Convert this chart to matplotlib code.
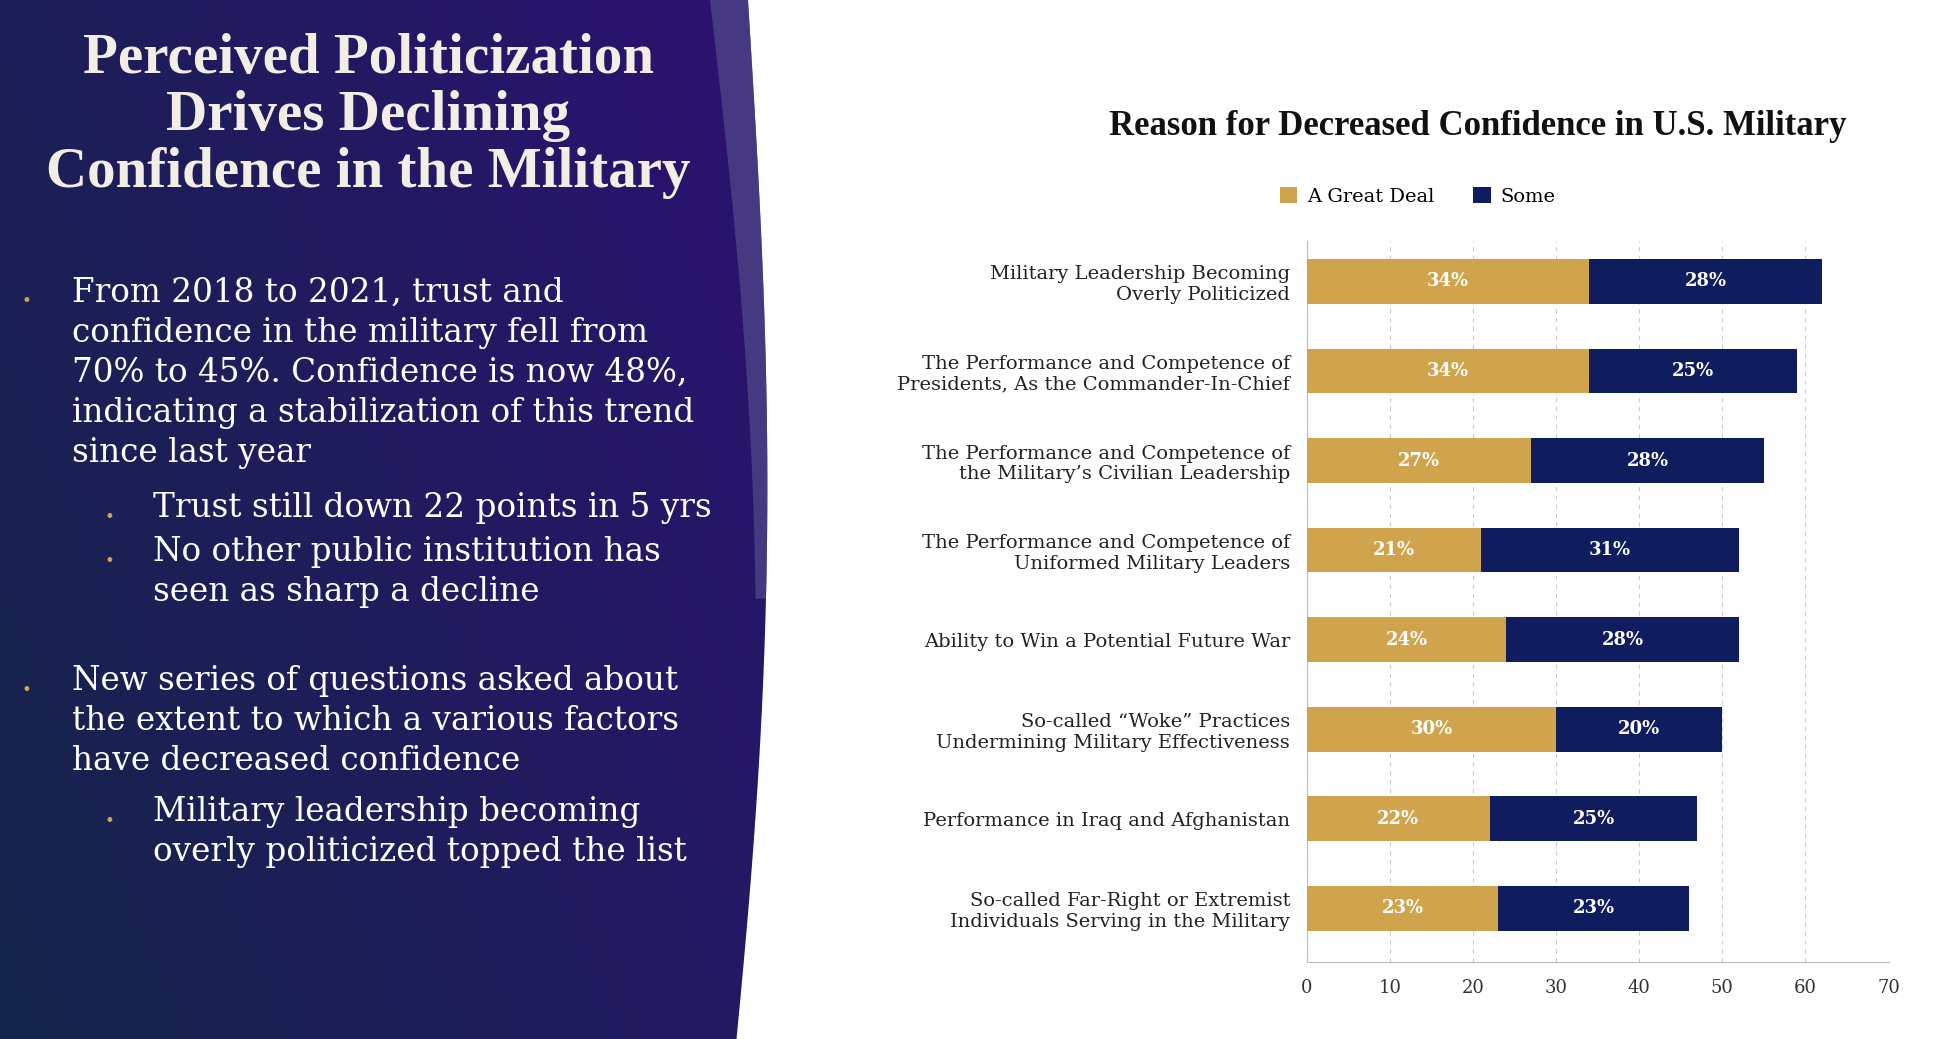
import numpy as np
import matplotlib.pyplot as plt
from matplotlib.patches import Polygon

categories = [
    "Military Leadership Becoming\nOverly Politicized",
    "The Performance and Competence of\nPresidents, As the Commander-In-Chief",
    "The Performance and Competence of\nthe Military\u2019s Civilian Leadership",
    "The Performance and Competence of\nUniformed Military Leaders",
    "Ability to Win a Potential Future War",
    "So-called \u201cWoke\u201d Practices\nUndermining Military Effectiveness",
    "Performance in Iraq and Afghanistan",
    "So-called Far-Right or Extremist\nIndividuals Serving in the Military",
]
great_deal = [34, 34, 27, 21, 24, 30, 22, 23]
some = [28, 25, 28, 31, 28, 20, 25, 23]

GOLD = "#d0a44c"
NAVY = "#0f1c5e"
W, H = 1939, 1039

fig = plt.figure(figsize=(19.39, 10.39), dpi=100)
fig.patch.set_facecolor("white")

# left dark panel with gradient
bg = fig.add_axes([0, 0, 1, 1], zorder=0)
bg.set_xlim(0, W)
bg.set_ylim(H, 0)
bg.axis("off")
xx, yy = np.meshgrid(np.linspace(0, 1, 200), np.linspace(0, 1, 200))
t = np.clip(0.65 * xx + 0.35 * (1 - yy), 0, 1)
c0 = np.array([0x15, 0x25, 0x4a]) / 255
c1 = np.array([0x2c, 0x12, 0x72]) / 255
img = c0[None, None, :] * (1 - t[..., None]) + c1[None, None, :] * t[..., None]
im = bg.imshow(img, extent=[0, 790, H, 0], aspect="auto", zorder=0)
ys = np.linspace(0, H, 60)
edge = 748 + 30 * np.sin(np.pi * ys / H * 0.9) - 0.02 * ys
clip = Polygon(np.column_stack([np.r_[0, edge, 0], np.r_[0, ys, H]]), closed=True,
               transform=bg.transData, facecolor="none", edgecolor="none")
bg.add_patch(clip)
im.set_clip_path(clip)
band_x = edge - 38 * (1 - ys / H) ** 1.5
band = np.column_stack([np.r_[band_x[:35], edge[34::-1]], np.r_[ys[:35], ys[34::-1]]])
bg.add_patch(Polygon(band, closed=True, facecolor="#5a5390", alpha=0.6, edgecolor="none"))

# left text
fig.text(0.19, 0.968, "Perceived Politicization\nDrives Declining\nConfidence in the Military",
         ha="center", va="top", color="#f2eee6", fontsize=41, fontweight="bold",
         family="Liberation Serif", linespacing=1.12)
body = [
    (0.011, 0.037, 0.71, "From 2018 to 2021, trust and\nconfidence in the military fell from\n70% to 45%. Confidence is now 48%,\nindicating a stabilization of this trend\nsince last year"),
    (0.054, 0.079, 0.502, "Trust still down 22 points in 5 yrs"),
    (0.054, 0.079, 0.46, "No other public institution has\nseen as sharp a decline"),
    (0.011, 0.037, 0.336, "New series of questions asked about\nthe extent to which a various factors\nhave decreased confidence"),
    (0.054, 0.079, 0.21, "Military leadership becoming\noverly politicized topped the list"),
]
for bx, tx, ty, s in body:
    fig.text(bx, ty, "\u2022", color=GOLD, fontsize=12, va="center")
    fig.text(tx, ty + 0.024, s, color="white", fontsize=23.5, va="top",
             family="DejaVu Serif", linespacing=1.33)

# chart
ax = fig.add_axes([0.674, 0.074, 0.3, 0.694], zorder=2)
y = np.arange(len(categories))
ax.barh(y, great_deal, height=0.5, color=GOLD, label="A Great Deal", zorder=3)
ax.barh(y, some, left=great_deal, height=0.5, color=NAVY, label="Some", zorder=3)
for i in range(len(categories)):
    ax.text(great_deal[i] / 2, y[i], f"{great_deal[i]}%", ha="center", va="center",
            color="white", fontsize=13, fontweight="bold", family="DejaVu Serif", zorder=4)
    ax.text(great_deal[i] + some[i] / 2, y[i], f"{some[i]}%", ha="center", va="center",
            color="white", fontsize=13, fontweight="bold", family="DejaVu Serif", zorder=4)
ax.set_yticks(y)
ax.set_yticklabels(categories, family="DejaVu Serif", fontsize=14, color="#222222")
ax.set_ylim(len(categories) - 0.4, -0.45)
ax.set_xlim(0, 70)
ax.set_xticks(range(0, 71, 10))
ax.tick_params(axis="x", labelsize=13, length=0, pad=12, colors="#333333")
ax.tick_params(axis="y", length=0, pad=12)
for lab in ax.get_xticklabels():
    lab.set_family("DejaVu Serif")
ax.xaxis.grid(True, linestyle=(0, (4, 4)), color="#cccccc", zorder=0)
for s in ["top", "right"]:
    ax.spines[s].set_visible(False)
ax.spines["left"].set_color("#bbbbbb")
ax.spines["bottom"].set_color("#bbbbbb")
ax.legend(loc="lower center", bbox_to_anchor=(0.19, 1.025), ncol=2, frameon=False,
          prop={"family": "DejaVu Serif", "size": 14}, handlelength=0.9, handleheight=0.9,
          columnspacing=2, handletextpad=0.5)
fig.text(0.762, 0.878, "Reason for Decreased Confidence in U.S. Military", ha="center",
         va="center", fontsize=25, fontweight="bold", family="Liberation Serif", color="#111111")

fig.savefig("out.png", dpi=100)
